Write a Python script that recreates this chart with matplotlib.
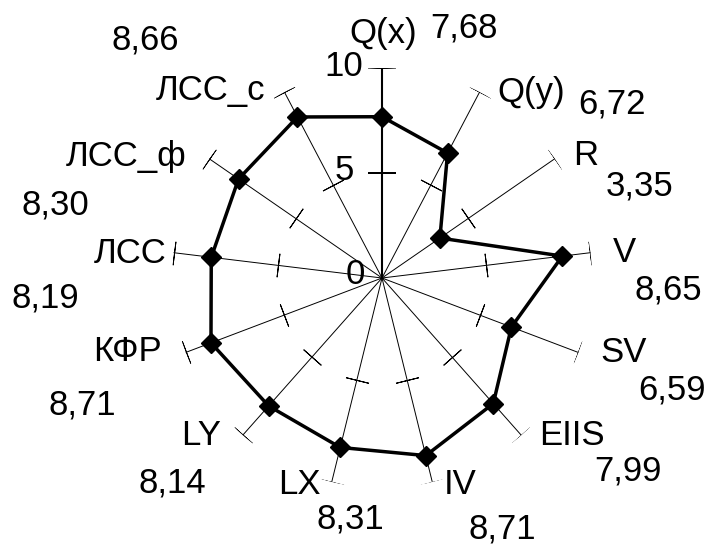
import numpy as np
import matplotlib
matplotlib.use("Agg")
import matplotlib.pyplot as plt

plt.rcParams["font.family"] = ["Liberation Sans", "DejaVu Sans"]

# ─── Data ─────────────────────────────────────────────────────────────────────
labels = ["Q(x)", "Q(y)", "R", "V", "SV", "EIIS", "IV", "LX", "LY",
          "КФР", "ЛСС", "ЛСС_ф", "ЛСС_с"]
values = [7.68, 6.72, 3.35, 8.65, 6.59, 7.99, 8.71, 8.31, 8.14,
          8.71, 8.19, 8.30, 8.66]
value_text = ["7,68", "6,72", "3,35", "8,65", "6,59", "7,99", "8,71",
              "8,31", "8,14", "8,71", "8,19", "8,30", "8,66"]
scale_ticks = [0, 5, 10]

# label offsets from the axis end (pixels)
label_off = [(1, 35), (52, 0), (31, 3), (34, 0), (45, 0), (51, 0), (28, -3),
             (-32, -3), (-42, 0), (-58, 1), (-43, -1), (-83, 2), (-74, 2)]
value_off = [(82, 40), (132, -12), (85, -27), (78, -37), (94, -38),
             (107, -36), (70, -47), (19, -37), (-70, -48), (-103, -53),
             (-128, -45), (-154, -46), (-139, 52)]

FS = 25

n = len(labels)
theta = np.arange(n) * 2 * np.pi / n

fig = plt.figure(figsize=(7.12, 5.45), dpi=100)
ax = fig.add_axes([172 / 712, 57 / 545, 420 / 712, 420 / 545], projection="polar")
ax.set_theta_zero_location("N")
ax.set_theta_direction(-1)
ax.set_ylim(0, 10)
ax.set_axis_off()

# spokes + perpendicular ticks at 5 and 10
for i, t in enumerate(theta):
    main = i == 0
    lw = 1.5 if main else 0.7
    ax.plot([t, t], [0, 10], color="black", lw=lw, zorder=1)
    ang = 90 - np.degrees(t)
    ax.plot([t, t], [5, 10], ls="none", marker=(2, 2, ang),
            ms=20 if main else 17, mew=1.2 if main else 0.7,
            mec="black", zorder=1)

# data polygon
tt = np.append(theta, theta[0])
vv = np.append(values, values[0])
ax.plot(tt, vv, color="black", lw=2.5, zorder=3)
ax.plot(theta, values, ls="none", marker="D", ms=10.5, color="black", zorder=4)

# scale numbers on the first axis
for s in scale_ticks:
    ax.annotate(str(s), xy=(0, s), xytext=(-38 if s else -27, 2 if s else 3),
                textcoords="offset pixels", ha="center", va="center",
                fontsize=FS)

# axis labels and values
for i, t in enumerate(theta):
    ax.annotate(labels[i], xy=(t, 10), xytext=label_off[i],
                textcoords="offset pixels", ha="center", va="center",
                fontsize=FS, annotation_clip=False)
    ax.annotate(value_text[i], xy=(t, 10), xytext=value_off[i],
                textcoords="offset pixels", ha="center", va="center",
                fontsize=FS, annotation_clip=False)

fig.savefig("out.png", dpi=100, facecolor="white")
